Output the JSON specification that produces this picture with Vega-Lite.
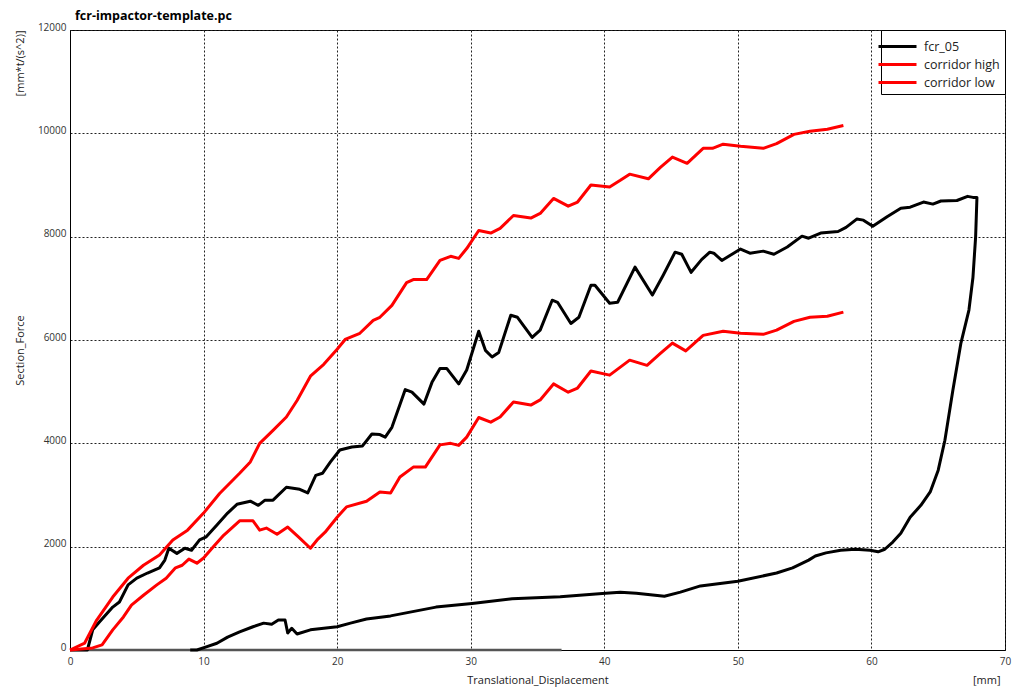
{
"$schema": "https://vega.github.io/schema/vega-lite/v6.json",
"width": 935, "height": 620,
"autosize": "none",
"padding": {"left": 70, "top": 30, "right": 7, "bottom": 41},
"background": "white",
"title": {"text": "fcr-impactor-template.pc", "anchor": "start", "frame": "group", "dx": 5, "offset": 0, "fontSize": 12.5, "fontWeight": "bold", "font": "Open Sans", "color": "#000"},
"config": {"view": {"stroke": "#000", "strokeWidth": 1}, "font": "Open Sans"},
"datasets": {
"curves": [
{"s":"fcr_05","i":1,"x":0,"y":0},{"s":"fcr_05","i":2,"x":1.3,"y":0},{"s":"fcr_05","i":3,"x":1.7,"y":390},{"s":"fcr_05","i":4,"x":2.2,"y":540},{"s":"fcr_05","i":5,"x":3.2,"y":830},{"s":"fcr_05","i":6,"x":3.7,"y":930},{"s":"fcr_05","i":7,"x":4.35,"y":1260},{"s":"fcr_05","i":8,"x":5.0,"y":1390},{"s":"fcr_05","i":9,"x":5.8,"y":1490},{"s":"fcr_05","i":10,"x":6.7,"y":1590},{"s":"fcr_05","i":11,"x":7.1,"y":1740},{"s":"fcr_05","i":12,"x":7.4,"y":1970},{"s":"fcr_05","i":13,"x":8.0,"y":1870},{"s":"fcr_05","i":14,"x":8.6,"y":1970},{"s":"fcr_05","i":15,"x":9.1,"y":1930},{"s":"fcr_05","i":16,"x":9.7,"y":2130},{"s":"fcr_05","i":17,"x":10.2,"y":2190},{"s":"fcr_05","i":18,"x":11.0,"y":2420},{"s":"fcr_05","i":19,"x":11.8,"y":2650},{"s":"fcr_05","i":20,"x":12.5,"y":2820},{"s":"fcr_05","i":21,"x":13.5,"y":2880},{"s":"fcr_05","i":22,"x":14.1,"y":2800},{"s":"fcr_05","i":23,"x":14.6,"y":2900},{"s":"fcr_05","i":24,"x":15.2,"y":2900},{"s":"fcr_05","i":25,"x":16.2,"y":3150},{"s":"fcr_05","i":26,"x":17.2,"y":3110},{"s":"fcr_05","i":27,"x":17.8,"y":3040},{"s":"fcr_05","i":28,"x":18.4,"y":3380},{"s":"fcr_05","i":29,"x":18.9,"y":3420},{"s":"fcr_05","i":30,"x":19.5,"y":3640},{"s":"fcr_05","i":31,"x":20.2,"y":3870},{"s":"fcr_05","i":32,"x":21.1,"y":3930},{"s":"fcr_05","i":33,"x":21.9,"y":3950},{"s":"fcr_05","i":34,"x":22.6,"y":4180},{"s":"fcr_05","i":35,"x":23.2,"y":4170},{"s":"fcr_05","i":36,"x":23.6,"y":4120},{"s":"fcr_05","i":37,"x":24.1,"y":4310},{"s":"fcr_05","i":38,"x":25.1,"y":5040},{"s":"fcr_05","i":39,"x":25.6,"y":4990},{"s":"fcr_05","i":40,"x":26.5,"y":4760},{"s":"fcr_05","i":41,"x":27.1,"y":5180},{"s":"fcr_05","i":42,"x":27.7,"y":5450},{"s":"fcr_05","i":43,"x":28.2,"y":5450},{"s":"fcr_05","i":44,"x":29.1,"y":5150},{"s":"fcr_05","i":45,"x":29.7,"y":5420},{"s":"fcr_05","i":46,"x":30.6,"y":6170},{"s":"fcr_05","i":47,"x":31.1,"y":5800},{"s":"fcr_05","i":48,"x":31.6,"y":5670},{"s":"fcr_05","i":49,"x":32.1,"y":5760},{"s":"fcr_05","i":50,"x":33.0,"y":6480},{"s":"fcr_05","i":51,"x":33.5,"y":6440},{"s":"fcr_05","i":52,"x":34.6,"y":6050},{"s":"fcr_05","i":53,"x":35.2,"y":6190},{"s":"fcr_05","i":54,"x":36.1,"y":6770},{"s":"fcr_05","i":55,"x":36.5,"y":6730},{"s":"fcr_05","i":56,"x":37.5,"y":6320},{"s":"fcr_05","i":57,"x":38.1,"y":6440},{"s":"fcr_05","i":58,"x":39.0,"y":7060},{"s":"fcr_05","i":59,"x":39.3,"y":7060},{"s":"fcr_05","i":60,"x":40.4,"y":6710},{"s":"fcr_05","i":61,"x":41.0,"y":6730},{"s":"fcr_05","i":62,"x":42.3,"y":7410},{"s":"fcr_05","i":63,"x":43.6,"y":6870},{"s":"fcr_05","i":64,"x":44.4,"y":7250},{"s":"fcr_05","i":65,"x":45.3,"y":7700},{"s":"fcr_05","i":66,"x":45.8,"y":7660},{"s":"fcr_05","i":67,"x":46.5,"y":7310},{"s":"fcr_05","i":68,"x":47.3,"y":7560},{"s":"fcr_05","i":69,"x":47.9,"y":7700},{"s":"fcr_05","i":70,"x":48.2,"y":7680},{"s":"fcr_05","i":71,"x":48.8,"y":7540},{"s":"fcr_05","i":72,"x":49.5,"y":7650},{"s":"fcr_05","i":73,"x":50.2,"y":7760},{"s":"fcr_05","i":74,"x":50.9,"y":7680},{"s":"fcr_05","i":75,"x":51.9,"y":7720},{"s":"fcr_05","i":76,"x":52.7,"y":7660},{"s":"fcr_05","i":77,"x":53.7,"y":7800},{"s":"fcr_05","i":78,"x":54.8,"y":8010},{"s":"fcr_05","i":79,"x":55.3,"y":7970},{"s":"fcr_05","i":80,"x":56.2,"y":8070},{"s":"fcr_05","i":81,"x":57.5,"y":8100},{"s":"fcr_05","i":82,"x":58.1,"y":8180},{"s":"fcr_05","i":83,"x":58.9,"y":8340},{"s":"fcr_05","i":84,"x":59.4,"y":8320},{"s":"fcr_05","i":85,"x":60.1,"y":8200},{"s":"fcr_05","i":86,"x":61.2,"y":8390},{"s":"fcr_05","i":87,"x":62.2,"y":8550},{"s":"fcr_05","i":88,"x":62.9,"y":8570},{"s":"fcr_05","i":89,"x":63.9,"y":8670},{"s":"fcr_05","i":90,"x":64.6,"y":8630},{"s":"fcr_05","i":91,"x":65.2,"y":8690},{"s":"fcr_05","i":92,"x":66.4,"y":8700},{"s":"fcr_05","i":93,"x":67.2,"y":8780},{"s":"fcr_05","i":94,"x":67.6,"y":8760},{"s":"fcr_05","i":95,"x":67.9,"y":8760},
{"s":"fcr_05","i":96,"x":67.8,"y":7990},{"s":"fcr_05","i":97,"x":67.6,"y":7210},{"s":"fcr_05","i":98,"x":67.3,"y":6580},{"s":"fcr_05","i":99,"x":66.7,"y":5940},{"s":"fcr_05","i":100,"x":66.1,"y":5030},{"s":"fcr_05","i":101,"x":65.5,"y":4060},{"s":"fcr_05","i":102,"x":65.0,"y":3480},{"s":"fcr_05","i":103,"x":64.4,"y":3060},{"s":"fcr_05","i":104,"x":63.7,"y":2800},{"s":"fcr_05","i":105,"x":62.9,"y":2570},{"s":"fcr_05","i":106,"x":62.2,"y":2260},{"s":"fcr_05","i":107,"x":61.6,"y":2090},{"s":"fcr_05","i":108,"x":61.0,"y":1950},{"s":"fcr_05","i":109,"x":60.5,"y":1900},{"s":"fcr_05","i":110,"x":59.9,"y":1930},{"s":"fcr_05","i":111,"x":58.8,"y":1950},{"s":"fcr_05","i":112,"x":57.7,"y":1930},{"s":"fcr_05","i":113,"x":56.6,"y":1880},{"s":"fcr_05","i":114,"x":55.8,"y":1820},{"s":"fcr_05","i":115,"x":55.3,"y":1740},{"s":"fcr_05","i":116,"x":54.1,"y":1590},{"s":"fcr_05","i":117,"x":52.9,"y":1490},{"s":"fcr_05","i":118,"x":50.0,"y":1330},{"s":"fcr_05","i":119,"x":47.2,"y":1240},{"s":"fcr_05","i":120,"x":45.7,"y":1120},{"s":"fcr_05","i":121,"x":44.5,"y":1040},{"s":"fcr_05","i":122,"x":42.4,"y":1100},{"s":"fcr_05","i":123,"x":41.2,"y":1120},{"s":"fcr_05","i":124,"x":40.1,"y":1100},{"s":"fcr_05","i":125,"x":36.7,"y":1030},{"s":"fcr_05","i":126,"x":33.1,"y":990},{"s":"fcr_05","i":127,"x":30.1,"y":900},{"s":"fcr_05","i":128,"x":27.4,"y":830},{"s":"fcr_05","i":129,"x":24.0,"y":660},{"s":"fcr_05","i":130,"x":22.2,"y":600},{"s":"fcr_05","i":131,"x":21.0,"y":520},{"s":"fcr_05","i":132,"x":20.0,"y":450},{"s":"fcr_05","i":133,"x":19.0,"y":420},{"s":"fcr_05","i":134,"x":18.0,"y":390},{"s":"fcr_05","i":135,"x":17.0,"y":310},{"s":"fcr_05","i":136,"x":16.6,"y":420},{"s":"fcr_05","i":137,"x":16.3,"y":330},{"s":"fcr_05","i":138,"x":16.1,"y":580},{"s":"fcr_05","i":139,"x":15.6,"y":580},{"s":"fcr_05","i":140,"x":15.1,"y":500},{"s":"fcr_05","i":141,"x":14.5,"y":520},{"s":"fcr_05","i":142,"x":13.7,"y":450},{"s":"fcr_05","i":143,"x":12.7,"y":350},{"s":"fcr_05","i":144,"x":11.8,"y":250},{"s":"fcr_05","i":145,"x":11.0,"y":130},{"s":"fcr_05","i":146,"x":10.2,"y":60},{"s":"fcr_05","i":147,"x":9.5,"y":0},{"s":"fcr_05","i":148,"x":9.0,"y":0},
{"s":"corridor high","i":1,"x":0,"y":0},{"s":"corridor high","i":2,"x":1.1,"y":135},{"s":"corridor high","i":3,"x":2.0,"y":580},{"s":"corridor high","i":4,"x":3.2,"y":1025},{"s":"corridor high","i":5,"x":4.35,"y":1390},{"s":"corridor high","i":6,"x":5.5,"y":1640},{"s":"corridor high","i":7,"x":6.7,"y":1840},{"s":"corridor high","i":8,"x":7.7,"y":2130},{"s":"corridor high","i":9,"x":8.8,"y":2320},{"s":"corridor high","i":10,"x":10.0,"y":2650},{"s":"corridor high","i":11,"x":11.2,"y":3030},{"s":"corridor high","i":12,"x":12.7,"y":3420},{"s":"corridor high","i":13,"x":13.5,"y":3640},{"s":"corridor high","i":14,"x":14.2,"y":4000},{"s":"corridor high","i":15,"x":15.2,"y":4250},{"s":"corridor high","i":16,"x":16.2,"y":4510},{"s":"corridor high","i":17,"x":17.0,"y":4830},{"s":"corridor high","i":18,"x":18.0,"y":5300},{"s":"corridor high","i":19,"x":19.0,"y":5530},{"s":"corridor high","i":20,"x":20.0,"y":5820},{"s":"corridor high","i":21,"x":20.6,"y":6010},{"s":"corridor high","i":22,"x":21.7,"y":6130},{"s":"corridor high","i":23,"x":22.7,"y":6380},{"s":"corridor high","i":24,"x":23.2,"y":6440},{"s":"corridor high","i":25,"x":24.1,"y":6670},{"s":"corridor high","i":26,"x":25.2,"y":7110},{"s":"corridor high","i":27,"x":25.7,"y":7170},{"s":"corridor high","i":28,"x":26.7,"y":7170},{"s":"corridor high","i":29,"x":27.7,"y":7540},{"s":"corridor high","i":30,"x":28.5,"y":7620},{"s":"corridor high","i":31,"x":29.1,"y":7580},{"s":"corridor high","i":32,"x":29.7,"y":7770},{"s":"corridor high","i":33,"x":30.6,"y":8120},{"s":"corridor high","i":34,"x":31.5,"y":8070},{"s":"corridor high","i":35,"x":32.2,"y":8160},{"s":"corridor high","i":36,"x":33.2,"y":8410},{"s":"corridor high","i":37,"x":34.5,"y":8360},{"s":"corridor high","i":38,"x":35.2,"y":8450},{"s":"corridor high","i":39,"x":36.2,"y":8740},{"s":"corridor high","i":40,"x":37.3,"y":8590},{"s":"corridor high","i":41,"x":38.0,"y":8670},{"s":"corridor high","i":42,"x":39.0,"y":9000},{"s":"corridor high","i":43,"x":40.4,"y":8960},{"s":"corridor high","i":44,"x":41.2,"y":9090},{"s":"corridor high","i":45,"x":41.9,"y":9210},{"s":"corridor high","i":46,"x":43.3,"y":9120},{"s":"corridor high","i":47,"x":44.2,"y":9340},{"s":"corridor high","i":48,"x":45.1,"y":9540},{"s":"corridor high","i":49,"x":46.2,"y":9420},{"s":"corridor high","i":50,"x":47.4,"y":9710},{"s":"corridor high","i":51,"x":48.1,"y":9710},{"s":"corridor high","i":52,"x":48.9,"y":9790},{"s":"corridor high","i":53,"x":50.2,"y":9750},{"s":"corridor high","i":54,"x":51.9,"y":9710},{"s":"corridor high","i":55,"x":52.9,"y":9800},{"s":"corridor high","i":56,"x":54.2,"y":9980},{"s":"corridor high","i":57,"x":55.4,"y":10040},{"s":"corridor high","i":58,"x":56.7,"y":10080},{"s":"corridor high","i":59,"x":57.9,"y":10150},
{"s":"corridor low","i":1,"x":0,"y":0},{"s":"corridor low","i":2,"x":1.7,"y":40},{"s":"corridor low","i":3,"x":2.4,"y":100},{"s":"corridor low","i":4,"x":3.2,"y":390},{"s":"corridor low","i":5,"x":4.0,"y":640},{"s":"corridor low","i":6,"x":4.6,"y":870},{"s":"corridor low","i":7,"x":5.5,"y":1060},{"s":"corridor low","i":8,"x":6.5,"y":1260},{"s":"corridor low","i":9,"x":7.2,"y":1390},{"s":"corridor low","i":10,"x":7.9,"y":1590},{"s":"corridor low","i":11,"x":8.4,"y":1640},{"s":"corridor low","i":12,"x":8.9,"y":1760},{"s":"corridor low","i":13,"x":9.5,"y":1680},{"s":"corridor low","i":14,"x":10.0,"y":1780},{"s":"corridor low","i":15,"x":10.7,"y":1990},{"s":"corridor low","i":16,"x":11.5,"y":2220},{"s":"corridor low","i":17,"x":12.7,"y":2500},{"s":"corridor low","i":18,"x":13.7,"y":2500},{"s":"corridor low","i":19,"x":14.2,"y":2320},{"s":"corridor low","i":20,"x":14.7,"y":2360},{"s":"corridor low","i":21,"x":15.5,"y":2240},{"s":"corridor low","i":22,"x":16.3,"y":2380},{"s":"corridor low","i":23,"x":17.1,"y":2190},{"s":"corridor low","i":24,"x":18.0,"y":1970},{"s":"corridor low","i":25,"x":18.5,"y":2130},{"s":"corridor low","i":26,"x":19.1,"y":2280},{"s":"corridor low","i":27,"x":20.0,"y":2570},{"s":"corridor low","i":28,"x":20.7,"y":2770},{"s":"corridor low","i":29,"x":22.2,"y":2880},{"s":"corridor low","i":30,"x":23.2,"y":3060},{"s":"corridor low","i":31,"x":24.0,"y":3040},{"s":"corridor low","i":32,"x":24.7,"y":3350},{"s":"corridor low","i":33,"x":25.7,"y":3540},{"s":"corridor low","i":34,"x":26.6,"y":3540},{"s":"corridor low","i":35,"x":27.7,"y":3970},{"s":"corridor low","i":36,"x":28.5,"y":4000},{"s":"corridor low","i":37,"x":29.1,"y":3960},{"s":"corridor low","i":38,"x":29.7,"y":4120},{"s":"corridor low","i":39,"x":30.6,"y":4500},{"s":"corridor low","i":40,"x":31.5,"y":4410},{"s":"corridor low","i":41,"x":32.2,"y":4510},{"s":"corridor low","i":42,"x":33.2,"y":4800},{"s":"corridor low","i":43,"x":34.5,"y":4740},{"s":"corridor low","i":44,"x":35.2,"y":4840},{"s":"corridor low","i":45,"x":36.2,"y":5150},{"s":"corridor low","i":46,"x":37.3,"y":4990},{"s":"corridor low","i":47,"x":38.0,"y":5070},{"s":"corridor low","i":48,"x":39.0,"y":5400},{"s":"corridor low","i":49,"x":40.4,"y":5320},{"s":"corridor low","i":50,"x":41.9,"y":5610},{"s":"corridor low","i":51,"x":43.2,"y":5510},{"s":"corridor low","i":52,"x":44.2,"y":5740},{"s":"corridor low","i":53,"x":45.1,"y":5940},{"s":"corridor low","i":54,"x":46.1,"y":5790},{"s":"corridor low","i":55,"x":47.4,"y":6090},{"s":"corridor low","i":56,"x":48.9,"y":6170},{"s":"corridor low","i":57,"x":50.2,"y":6130},{"s":"corridor low","i":58,"x":51.9,"y":6110},{"s":"corridor low","i":59,"x":52.9,"y":6190},{"s":"corridor low","i":60,"x":54.2,"y":6360},{"s":"corridor low","i":61,"x":55.4,"y":6440},{"s":"corridor low","i":62,"x":56.7,"y":6460},{"s":"corridor low","i":63,"x":57.9,"y":6540}
],
"base": [{"x":0,"y":0},{"x":36.8,"y":0}]
},
"layer": [
{
"data": {"name": "base"},
"mark": {"type": "line", "color": "#555", "strokeWidth": 2.5, "clip": false},
"encoding": {
"x": {"field": "x", "type": "quantitative", "scale": {"domain": [0,70], "nice": false, "zero": false},
 "axis": {"orient": "top", "title": "[mm]", "labels": false, "ticks": false, "domain": false, "grid": false, "titleX": 930, "titleY": 650, "titleAlign": "right", "titleBaseline": "middle", "titleFontSize": 11, "titleFontWeight": "normal", "titleColor": "#222", "titleFont": "Open Sans"}},
"y": {"field": "y", "type": "quantitative", "scale": {"domain": [0,12000], "nice": false, "zero": false},
 "axis": {"orient": "right", "title": "[mm*t/(s^2)]", "labels": false, "ticks": false, "domain": false, "grid": false, "titleAngle": 270, "titleX": -985, "titleY": 0, "titleAlign": "right", "titleBaseline": "middle", "titleFontSize": 11, "titleFontWeight": "normal", "titleColor": "#222", "titleFont": "Open Sans"}}
}
},
{
"data": {"name": "curves"},
"mark": {"type": "line", "strokeWidth": 3, "strokeJoin": "round"},
"encoding": {
"x": {"field": "x", "type": "quantitative", "scale": {"domain": [0,70], "nice": false, "zero": false},
 "axis": {"title": "Translational_Displacement", "values": [0,10,20,30,40,50,60,70], "format": "d", "grid": true, "gridDash": [2,2], "gridColor": "#222", "gridOpacity": 1, "domainColor": "#000", "ticks": false, "labelPadding": 6, "labelFontSize": 10, "labelColor": "#333", "labelFlush": false, "titleFontSize": 11, "titleFontWeight": "normal", "titleColor": "#222", "titleY": 30, "titleBaseline": "middle"}},
"y": {"field": "y", "type": "quantitative", "scale": {"domain": [0,12000], "nice": false, "zero": false},
 "axis": {"title": "Section_Force", "values": [0,2000,4000,6000,8000,10000,12000], "format": "d", "grid": true, "gridDash": [2,2], "gridColor": "#222", "gridOpacity": 1, "domainColor": "#000", "ticks": false, "labelPadding": 4, "labelFontSize": 10, "labelColor": "#333", "labelBaseline": "alphabetic", "labelFlush": false, "titleFontSize": 11, "titleFontWeight": "normal", "titleColor": "#222", "titleX": -50, "titleY": 320, "titleBaseline": "middle"}},
"color": {"field": "s", "type": "nominal", "scale": {"domain": ["fcr_05","corridor high","corridor low"], "range": ["#000000","#ff0000","#ff0000"]},
 "legend": {"title": null, "orient": "top-right", "offset": 0, "strokeColor": "#000", "fillColor": "#fff", "padding": 5, "rowPadding": 0, "symbolType": "M-1.9,0H1.9", "symbolSize": 400, "symbolStrokeWidth": 3, "labelFontSize": 12.5, "labelColor": "#222", "labelOffset": 15, "labelFont": "Open Sans"}},
"detail": {"field": "s"},
"order": {"field": "i", "type": "quantitative"}
}
}
],
"resolve": {"axis": {"x": "independent", "y": "independent"}}
}
